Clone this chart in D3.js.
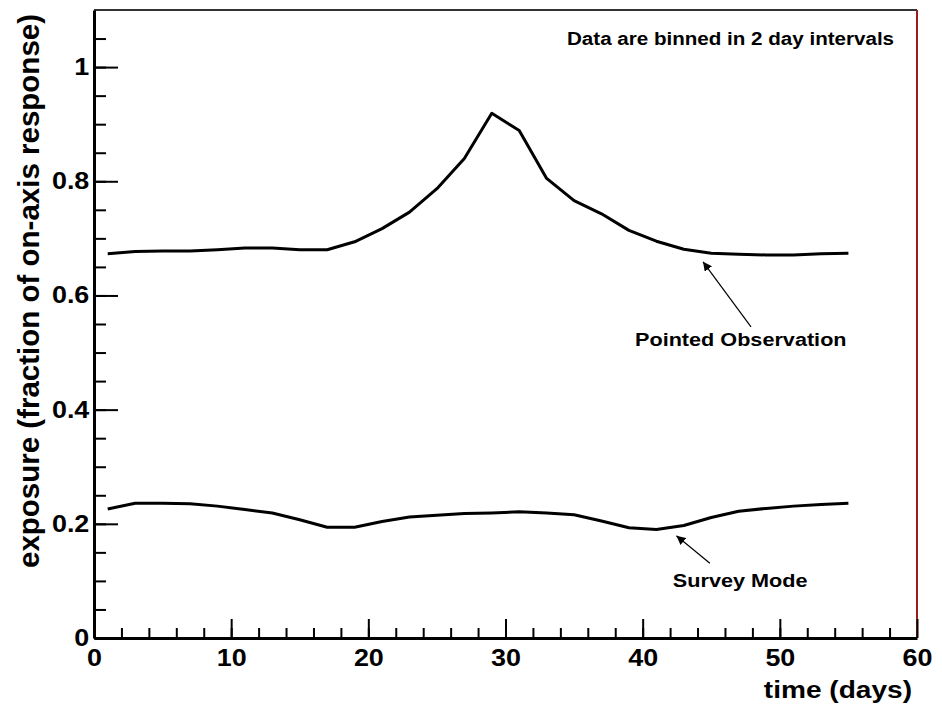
<!DOCTYPE html>
<html>
<head>
<meta charset="utf-8">
<script src="https://cdn.jsdelivr.net/npm/d3@7"></script>
<style>
  body { margin: 0; background: #fff; }
  text { font-family: "Liberation Sans", Arial, Helvetica, sans-serif; font-weight: bold; fill: #000; }
  .axis path, .axis line { stroke: #000; }
</style>
</head>
<body>
<svg id="chart"></svg>
<script>
// bin centres (days), 2 day bins
const days = [1, 3, 5, 7, 9, 11, 13, 15, 17, 19, 21, 23, 25, 27, 29, 31, 33, 35, 37, 39, 41, 43, 45, 47, 49, 51, 53, 55];

const pointedExposure = [0.673, 0.677, 0.678, 0.678, 0.680, 0.683, 0.683, 0.680, 0.680, 0.694,
  0.717, 0.746, 0.787, 0.840, 0.919, 0.889, 0.805, 0.766, 0.743, 0.714,
  0.695, 0.681, 0.674, 0.672, 0.671, 0.671, 0.673, 0.674];

const surveyExposure = [0.226, 0.236, 0.236, 0.235, 0.231, 0.225, 0.219, 0.207, 0.194, 0.194,
  0.204, 0.212, 0.215, 0.218, 0.219, 0.221, 0.219, 0.216, 0.205, 0.193,
  0.190, 0.197, 0.211, 0.222, 0.227, 0.231, 0.234, 0.236];

const xMajorTicks = [0, 10, 20, 30, 40, 50, 60];
const yMajorTicks = [0, 0.2, 0.4, 0.6, 0.8, 1];

// annotation arrows in data units: [tail, tip]
const notes = [
  {label: 'Pointed Observation', text: [39.44, 0.511], tail: [47.9, 0.545], tip: [44.4, 0.659]},
  {label: 'Survey Mode', text: [42.2, 0.090], tail: [44.9, 0.131], tip: [42.46, 0.179]}
];

const stretch = 1.17; // horizontal text stretch

const config = {
  containerWidth: 942,
  containerHeight: 707,
  margin: {top: 10, right: 25, bottom: 69, left: 94}
};
const width = config.containerWidth - config.margin.left - config.margin.right;
const height = config.containerHeight - config.margin.top - config.margin.bottom;

const svg = d3.select('#chart')
  .attr('width', config.containerWidth)
  .attr('height', config.containerHeight);

svg.append('defs').append('marker')
  .attr('id', 'head')
  .attr('viewBox', '0 0 10 10')
  .attr('refX', 10).attr('refY', 5)
  .attr('markerWidth', 9).attr('markerHeight', 9)
  .attr('markerUnits', 'userSpaceOnUse')
  .attr('orient', 'auto')
  .append('path')
  .attr('d', 'M0,0L10,5L0,10z')
  .attr('fill', '#000');

const chart = svg.append('g')
  .attr('transform', `translate(${config.margin.left},${config.margin.top})`);

const xScale = d3.scaleLinear().domain([0, 60]).range([0, width]);
const yScale = d3.scaleLinear().domain([0, 1.1]).range([height, 0]);

// curves
const line = d3.line()
  .x((d, i) => xScale(days[i]))
  .y(d => yScale(d));

[pointedExposure, surveyExposure].forEach(series => {
  chart.append('path')
    .datum(series)
    .attr('d', line)
    .attr('fill', 'none')
    .attr('stroke', '#000')
    .attr('stroke-width', 3)
    .attr('stroke-linejoin', 'round');
});

// frame: top edge and red right edge
chart.append('line')
  .attr('x1', 0).attr('x2', width).attr('y1', 0).attr('y2', 0)
  .attr('stroke', '#333').attr('stroke-width', 2);
chart.append('line')
  .attr('x1', width).attr('x2', width).attr('y1', 0).attr('y2', height)
  .attr('stroke', '#9b1c1c').attr('stroke-width', 2);

// minor ticks
chart.append('g')
  .attr('class', 'axis')
  .attr('transform', `translate(0,${height})`)
  .call(d3.axisBottom(xScale).tickValues(d3.range(2, 60, 2)).tickSize(-10).tickSizeOuter(0).tickFormat(''))
  .call(g => g.select('.domain').remove())
  .selectAll('line').attr('stroke-width', 2);

chart.append('g')
  .attr('class', 'axis')
  .call(d3.axisLeft(yScale).tickValues(d3.range(1, 22).map(i => i * 0.05)).tickSize(-12).tickSizeOuter(0).tickFormat(''))
  .call(g => g.select('.domain').remove())
  .selectAll('line').attr('stroke-width', 2);

// major ticks and labels
const xAxisG = chart.append('g')
  .attr('class', 'axis')
  .attr('transform', `translate(0,${height})`)
  .call(d3.axisBottom(xScale).tickValues(xMajorTicks).tickSizeInner(-19).tickSizeOuter(0).tickPadding(12).tickFormat(d3.format('d')));
xAxisG.select('.domain').attr('stroke-width', 3);
xAxisG.selectAll('line').attr('stroke-width', 2);
xAxisG.selectAll('text')
  .attr('font-size', 23)
  .attr('font-family', null)
  .attr('transform', `scale(${stretch},1)`);

const yAxisG = chart.append('g')
  .attr('class', 'axis')
  .call(d3.axisLeft(yScale).tickValues(yMajorTicks).tickSizeInner(-24).tickSizeOuter(0).tickPadding(4).tickFormat(d => d === 0 || d === 1 ? d : d3.format('.1f')(d)));
yAxisG.select('.domain').attr('stroke-width', 3);
yAxisG.selectAll('line').attr('stroke-width', 2);
yAxisG.selectAll('text')
  .attr('font-size', 23)
  .attr('font-family', null)
  .attr('transform', `scale(${stretch},1)`);

// axis titles
svg.append('text')
  .attr('transform', `translate(912,698) scale(${stretch},1)`)
  .attr('text-anchor', 'end')
  .attr('font-size', 24)
  .text('time (days)');

svg.append('text')
  .attr('transform', 'translate(39,291) rotate(-90)')
  .attr('text-anchor', 'middle')
  .attr('font-size', 29.5)
  .text('exposure (fraction of on-axis response)');

svg.append('text')
  .attr('transform', `translate(567,45) scale(${stretch},1)`)
  .attr('font-size', 17.6)
  .text('Data are binned in 2 day intervals');

// labelled arrows
notes.forEach(n => {
  chart.append('line')
    .attr('x1', xScale(n.tail[0])).attr('y1', yScale(n.tail[1]))
    .attr('x2', xScale(n.tip[0])).attr('y2', yScale(n.tip[1]))
    .attr('stroke', '#000').attr('stroke-width', 1.2)
    .attr('marker-end', 'url(#head)');
  chart.append('text')
    .attr('transform', `translate(${xScale(n.text[0])},${yScale(n.text[1])}) scale(${stretch},1)`)
    .attr('font-size', 18.5)
    .text(n.label);
});
</script>
</body>
</html>
